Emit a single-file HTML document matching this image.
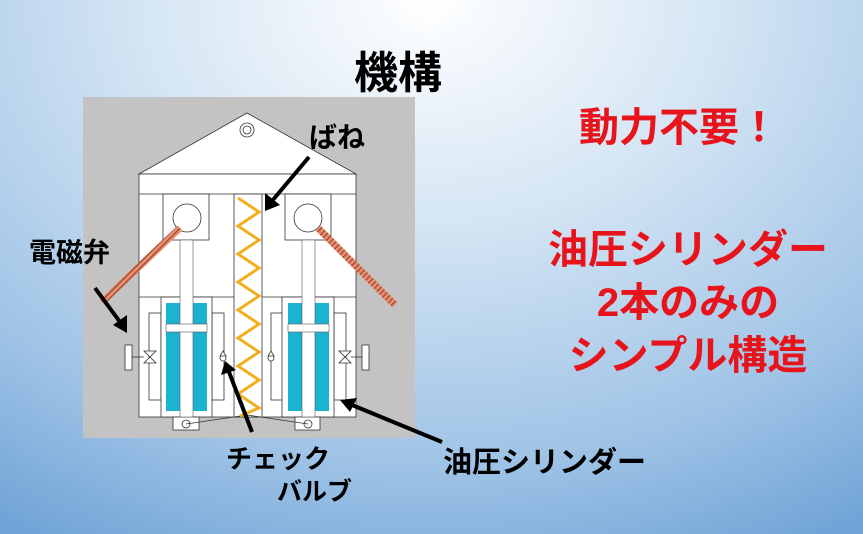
<!DOCTYPE html>
<html><head><meta charset="utf-8"><style>
body{margin:0;width:863px;height:534px;overflow:hidden;}
svg{display:block}
text{font-family:"Liberation Sans","Noto Sans CJK JP",sans-serif;font-weight:bold}
</style></head><body>
<svg width="863" height="534" viewBox="0 0 863 534" xmlns="http://www.w3.org/2000/svg">
<defs>
<radialGradient id="bg" cx="430" cy="0" r="620" gradientUnits="userSpaceOnUse" gradientTransform="translate(430,0) scale(1.3,1) translate(-430,0)">
<stop offset="0" stop-color="#ffffff"/><stop offset="0.35" stop-color="#d6e6f4"/><stop offset="0.75" stop-color="#9fc3e6"/><stop offset="1" stop-color="#6fa3d6"/>
</radialGradient>
<pattern id="strap" width="4" height="4" patternUnits="userSpaceOnUse" patternTransform="rotate(45)"><rect width="4" height="4" fill="#e89070"/><rect width="1.3" height="4" fill="#a04830"/></pattern>
</defs>
<rect width="863" height="534" fill="url(#bg)"/>
<text x="398" y="88" font-size="44" text-anchor="middle" fill="#000">機構</text>
<rect x="83" y="97" width="332" height="341" fill="#c3c3c3"/>
<g stroke="#333" stroke-width="0.8" fill="#fff">
<polygon points="139,174 247,113 356,174"/>
<rect x="139" y="174" width="217" height="243"/>
<line x1="139" y1="194" x2="356" y2="194"/>
<line x1="139" y1="297" x2="356" y2="297"/>
<rect x="163" y="194" width="46" height="46"/>
<rect x="285" y="194" width="46" height="46"/>
<circle cx="187" cy="218" r="14"/>
<circle cx="308" cy="218" r="14"/>
<circle cx="247" cy="130" r="7"/><circle cx="247" cy="130" r="4"/>
<rect x="234" y="194" width="28" height="223"/>
<rect x="149" y="313" width="12" height="87"/>
<rect x="212" y="313" width="12" height="87"/>
<rect x="271" y="313" width="12" height="87"/>
<rect x="334" y="313" width="12" height="87"/>
<rect x="161" y="297" width="51" height="120"/>
<rect x="282" y="297" width="52" height="120"/>
<rect x="125" y="345" width="7" height="25"/>
<rect x="362" y="345" width="7" height="25"/>
<rect x="173" y="417" width="26" height="13"/><circle cx="186" cy="424" r="4"/>
<rect x="295" y="417" width="25" height="13"/><circle cx="308" cy="424" r="4"/>
</g>
<g fill="#1bb3cf">
<rect x="166" y="303" width="14" height="108"/><rect x="193" y="303" width="14" height="108"/>
<rect x="288" y="303" width="14" height="108"/><rect x="315" y="303" width="14" height="108"/>
</g>
<g fill="#fff" stroke="#555" stroke-width="0.6">
<rect x="180" y="240" width="13" height="177"/>
<rect x="302" y="240" width="13" height="177"/>
<rect x="166" y="324" width="41" height="8"/>
<rect x="288" y="324" width="41" height="8"/>
</g>
<g stroke="#333" stroke-width="0.8" fill="#fff">
<polygon points="144,351 156,351 144,363 156,363"/>
<polygon points="339,351 351,351 339,363 351,363"/>
<line x1="132" y1="357" x2="144" y2="357"/><line x1="351" y1="357" x2="362" y2="357"/>
<circle cx="223" cy="358" r="3"/><polygon points="220,356 226,356 223,351"/>
<circle cx="271" cy="358" r="3"/><polygon points="268,356 274,356 271,351"/>
<polyline points="186,424 247,415 308,424" fill="none"/>
</g>
<polyline points="238,198 259,212 238,226 259,240 238,254 259,268 238,282 259,296 238,310 259,324 238,338 259,352 238,366 259,380 238,394 259,408 240,416" fill="none" stroke="#f0b020" stroke-width="3"/>
<line x1="180" y1="228" x2="102" y2="302" stroke="url(#strap)" stroke-width="7"/>
<line x1="318" y1="228" x2="395" y2="305" stroke="url(#strap)" stroke-width="7"/>
<g stroke="#000" stroke-width="4" fill="#000">
<line x1="309" y1="157" x2="272" y2="201"/>
<line x1="95" y1="288" x2="120" y2="322"/>
<line x1="252" y1="432" x2="229" y2="372"/>
<line x1="442" y1="442" x2="352" y2="405"/>
</g>
<g fill="#000">
<polygon points="265,211 265,193 280,205"/>
<polygon points="127,333 113,325 127,315"/>
<polygon points="225,361 221,375 236,370"/>
<polygon points="340,400 357,398 350,412"/>
</g>
<text x="309" y="147" font-size="28" fill="#000">ばね</text>
<text x="29" y="262" font-size="27" fill="#000">電磁弁</text>
<text x="226" y="468" font-size="26" fill="#000">チェック</text>
<text x="277" y="500" font-size="25" fill="#000">バルブ</text>
<text x="443" y="472" font-size="29" fill="#000">油圧シリンダー</text>
<g fill="#e8141c" font-size="40" text-anchor="middle">
<text x="679" y="141">動力不要！</text>
<text x="688" y="263">油圧シリンダー</text>
<text x="688" y="316">2本のみの</text>
<text x="688" y="369">シンプル構造</text>
</g>
</svg>
</body></html>
